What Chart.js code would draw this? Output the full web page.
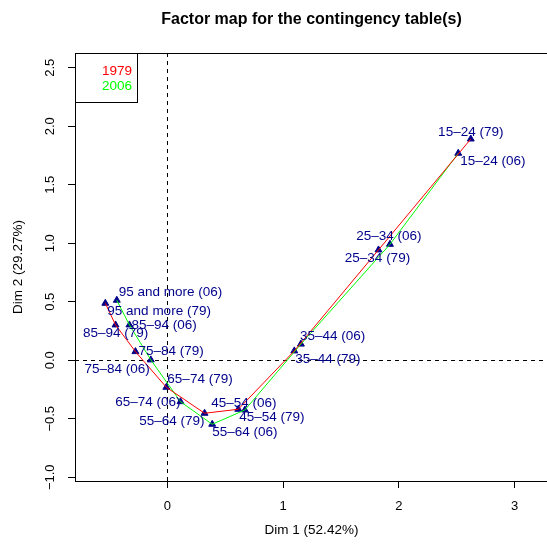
<!DOCTYPE html>
<html>
<head>
<meta charset="utf-8">
<script src="https://cdn.jsdelivr.net/npm/chart.js@4.4.1/dist/chart.umd.min.js"></script>
<style>
  html, body { margin: 0; padding: 0; background: #fff; overflow: hidden; }
  #wrap { width: 547px; height: 547px; overflow: hidden; }
</style>
</head>
<body>
<div id="wrap"><canvas id="factorMap" width="553" height="547"></canvas></div>
<script>
// Age groups and their coordinates on the first two dimensions
const ageGroups = ['95 and more', '85–94', '75–84', '65–74', '55–64', '45–54', '35–44', '25–34', '15–24'];
const dim1_1979 = [-0.535, -0.447, -0.275, -0.008, 0.322, 0.613, 1.097, 1.824, 2.621];
const dim2_1979 = [0.487, 0.302, 0.074, -0.231, -0.453, -0.419, 0.080, 0.943, 1.891];
const dim1_2006 = [-0.436, -0.327, -0.142, 0.114, 0.388, 0.670, 1.154, 1.923, 2.513];
const dim2_2006 = [0.513, 0.302, 0.003, -0.354, -0.547, -0.425, 0.138, 0.991, 1.769];
const xTicks = [0, 1, 2, 3];
const yTicks = [-1.0, -0.5, 0.0, 0.5, 1.0, 1.5, 2.0, 2.5];

// label placement per point: text alignment, x shift, y shift (px)
const labelPlace1979 = [['left', 2, 8], ['center', 0, 8], ['left', 3, 0], ['left', 1, -8], ['right', 0, 8],
                        ['left', 1, 8], ['left', 1, 8], ['center', -1, 8], ['center', 0, -7]];
const labelPlace2006 = [['left', 2, -8], ['left', 2, 0], ['right', -1, 9], ['right', 0, 1], ['left', 0, 8],
                        ['center', -1, -7], ['left', -1, -8], ['center', -1, -8], ['left', 2, 8]];

const RED = '#ff0000';
const GREEN = '#00ff00';
const DARKBLUE = '#00008b';
const FONT = '"Liberation Sans", Arial, sans-serif';

const pointsOf = (xs, ys) => xs.map((x, i) => ({ x: x, y: ys[i] }));

// dashed lines through the origin
const zeroLines = {
    id: 'zeroLines',
    beforeDatasetsDraw(chart) {
        const { ctx, chartArea: a, scales: { x, y } } = chart;
        const x0 = Math.round(x.getPixelForValue(0)) + 0.5;
        const y0 = Math.round(y.getPixelForValue(0)) + 0.5;
        ctx.save();
        ctx.strokeStyle = '#000';
        ctx.lineWidth = 1;
        ctx.setLineDash([4, 4]);
        ctx.beginPath();
        ctx.moveTo(x0, a.top);
        ctx.lineTo(x0, a.bottom);
        ctx.moveTo(a.left, y0);
        ctx.lineTo(a.right, y0);
        ctx.stroke();
        ctx.restore();
    }
};

// text labels next to each triangle
const pointLabels = {
    id: 'pointLabels',
    afterDatasetsDraw(chart) {
        const ctx = chart.ctx;
        ctx.save();
        ctx.font = '13.5px ' + FONT;
        ctx.fillStyle = DARKBLUE;
        ctx.textBaseline = 'middle';
        chart.data.datasets.forEach((ds, di) => {
            if (!ds.places) return;
            chart.getDatasetMeta(di).data.forEach((pt, i) => {
                const [align, dx, dy] = ds.places[i];
                ctx.textAlign = align;
                ctx.fillText(ageGroups[i] + ' (' + ds.label + ')', pt.x + dx, pt.y + dy);
            });
        });
        ctx.restore();
    }
};

// plot frame and the boxed legend in the top-left corner
const frameAndLegend = {
    id: 'frameAndLegend',
    afterDraw(chart) {
        const { ctx, chartArea: a } = chart;
        ctx.save();
        ctx.strokeStyle = '#000';
        ctx.lineWidth = 1;
        ctx.beginPath();
        ctx.moveTo(a.right + 1, a.top + 0.5);
        ctx.lineTo(a.left + 0.5, a.top + 0.5);
        ctx.lineTo(a.left + 0.5, a.bottom + 0.5);
        ctx.lineTo(a.right + 1, a.bottom + 0.5);
        ctx.stroke();

        const lines = chart.data.datasets.filter(ds => ds.showLine);
        ctx.fillStyle = '#fff';
        ctx.fillRect(a.left + 1, a.top + 1, 62, 48);
        ctx.strokeRect(a.left + 0.5, a.top + 0.5, 62, 49);
        ctx.font = '13.5px ' + FONT;
        ctx.textAlign = 'right';
        ctx.textBaseline = 'middle';
        lines.forEach((ds, i) => {
            ctx.fillStyle = ds.borderColor;
            ctx.fillText(ds.label, a.left + 57, a.top + 18 + i * 15);
        });
        ctx.restore();
    }
};

new Chart(document.getElementById('factorMap'), {
    type: 'scatter',
    data: {
        datasets: [
            { label: '1979', data: pointsOf(dim1_1979, dim2_1979), showLine: true, borderColor: RED,
              borderWidth: 1, pointRadius: 0, order: 0 },
            { label: '2006', data: pointsOf(dim1_2006, dim2_2006), showLine: true, borderColor: GREEN,
              borderWidth: 1, pointRadius: 0, order: 0 },
            { label: '79', data: pointsOf(dim1_1979, dim2_1979), pointStyle: 'triangle', pointRadius: 4,
              pointBackgroundColor: DARKBLUE, pointBorderColor: DARKBLUE, pointBorderWidth: 1,
              order: 1, places: labelPlace1979 },
            { label: '06', data: pointsOf(dim1_2006, dim2_2006), pointStyle: 'triangle', pointRadius: 4,
              pointBackgroundColor: DARKBLUE, pointBorderColor: DARKBLUE, pointBorderWidth: 1,
              order: 1, places: labelPlace2006 }
        ]
    },
    options: {
        responsive: false,
        animation: false,
        events: [],
        layout: { padding: 0 },
        plugins: {
            legend: { display: false },
            tooltip: { enabled: false },
            title: {
                display: true,
                text: 'Factor map for the contingency table(s)',
                fullSize: false,
                color: '#000',
                font: { family: FONT, size: 16, weight: 'bold', lineHeight: 1.2 },
                padding: { top: 10.4, bottom: 23.4 }
            }
        },
        scales: {
            x: {
                type: 'linear',
                min: -0.797,
                max: 3.288,
                afterFit: s => { s.height = 66; },
                afterBuildTicks: s => { s.ticks = xTicks.map(v => ({ value: v })); },
                grid: { drawOnChartArea: false, drawTicks: true, tickLength: 7, color: '#000' },
                border: { display: true, color: '#000' },
                ticks: { color: '#000', font: { family: FONT, size: 13 }, padding: 10.9,
                         callback: v => String(v) },
                title: { display: true, text: 'Dim 1 (52.42%)', color: '#000',
                         font: { family: FONT, size: 13.5 }, padding: { top: 0, bottom: 8.2 } }
            },
            y: {
                type: 'linear',
                min: -1.032,
                max: 2.626,
                afterFit: s => { s.width = 75; },
                afterBuildTicks: s => { s.ticks = yTicks.map(v => ({ value: v })); },
                grid: { drawOnChartArea: false, drawTicks: true, tickLength: 7, color: '#000' },
                border: { display: true, color: '#000' },
                ticks: { color: '#000', font: { family: FONT, size: 13 }, padding: 4.6,
                         minRotation: 90, maxRotation: 90, crossAlign: 'center', autoSkip: false,
                         callback: v => (v < 0 ? '\u2212' : '') + Math.abs(v).toFixed(1) },
                title: { display: true, text: 'Dim 2 (29.27%)', color: '#000',
                         font: { family: FONT, size: 13.5 }, padding: { top: 10.2, bottom: 0 } }
            }
        }
    },
    plugins: [zeroLines, pointLabels, frameAndLegend]
});
</script>
</body>
</html>
